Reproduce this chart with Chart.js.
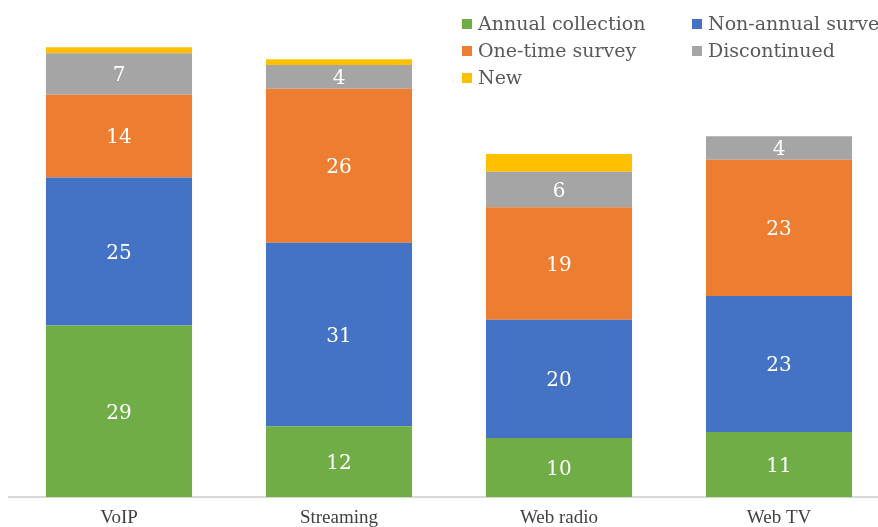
<!DOCTYPE html>
<html>
<head>
<meta charset="utf-8">
<script src="https://cdn.jsdelivr.net/npm/chart.js@4/dist/chart.umd.min.js"></script>
<style>
  html, body { margin: 0; padding: 0; background: #fff; overflow: hidden; }
  #wrap { position: relative; width: 878px; height: 527px; overflow: hidden; }
  canvas { position: absolute; left: 0; top: 0; }
</style>
</head>
<body>
<div id="wrap"><canvas id="chart" width="900" height="530"></canvas></div>
<script>
const categories = ['VoIP', 'Streaming', 'Web radio', 'Web TV'];
const annualCollection = [29, 12, 10, 11];
const nonAnnualSurvey = [25, 31, 20, 23];
const oneTimeSurvey = [14, 26, 19, 23];
const discontinued = [7, 4, 6, 4];
const newSeries = [1, 1, 3, 0];

const serif = '"DejaVu Serif", Georgia, serif';

// value labels in the middle of each segment (not for "New")
const segmentLabels = {
    id: 'segmentLabels',
    afterDatasetsDraw(chart) {
        const ctx = chart.ctx;
        ctx.save();
        ctx.fillStyle = '#ffffff';
        ctx.font = '20px ' + serif;
        ctx.textAlign = 'center';
        ctx.textBaseline = 'middle';
        chart.data.datasets.forEach(function (ds, i) {
            if (ds.label === 'New') return;
            chart.getDatasetMeta(i).data.forEach(function (bar, j) {
                const v = ds.data[j];
                if (!v) return;
                const p = bar.getProps(['x', 'y', 'base'], true);
                ctx.fillText(String(v), p.x, (p.y + p.base) / 2 + 2);
            });
        });
        ctx.restore();
    }
};

// legend laid out in two columns at the top right, over the plot
const cornerLegend = {
    id: 'cornerLegend',
    afterDraw(chart) {
        const ctx = chart.ctx;
        const cols = [462, 692];
        const rows = [24, 51, 78];
        ctx.save();
        ctx.font = '19px ' + serif;
        ctx.textBaseline = 'middle';
        ctx.textAlign = 'left';
        chart.data.datasets.forEach(function (ds, i) {
            const x = cols[i % 2];
            const y = rows[Math.floor(i / 2)];
            ctx.fillStyle = ds.backgroundColor;
            ctx.fillRect(x, y - 5, 10, 10);
            ctx.fillStyle = '#595959';
            ctx.fillText(ds.label, x + 16, y + 1);
        });
        ctx.restore();
    }
};

const ctx = document.getElementById('chart').getContext('2d');
const chart = new Chart(ctx, {
    type: 'bar',
    data: {
        labels: categories,
        datasets: [
            { label: 'Annual collection', data: annualCollection, backgroundColor: '#70AD47' },
            { label: 'Non-annual survey', data: nonAnnualSurvey, backgroundColor: '#4472C4' },
            { label: 'One-time survey', data: oneTimeSurvey, backgroundColor: '#ED7D31' },
            { label: 'Discontinued', data: discontinued, backgroundColor: '#A5A5A5' },
            { label: 'New', data: newSeries, backgroundColor: '#FFC000' }
        ]
    },
    plugins: [segmentLabels, cornerLegend],
    options: {
        responsive: false,
        animation: false,
        layout: { padding: { left: 9, right: 11, top: 0, bottom: 0 } },
        datasets: {
            bar: { categoryPercentage: 1, barPercentage: 0.664, borderWidth: 0 }
        },
        plugins: {
            legend: { display: false },
            tooltip: { enabled: false }
        },
        scales: {
            x: {
                stacked: true,
                grid: { display: false },
                border: { display: true, color: '#d9d9d9', width: 2 },
                ticks: {
                    color: '#404040',
                    font: { family: '"Liberation Serif", serif', size: 19 },
                    padding: 1
                }
            },
            y: {
                stacked: true,
                display: false,
                min: 0,
                max: 84
            }
        }
    }
});
</script>
</body>
</html>
